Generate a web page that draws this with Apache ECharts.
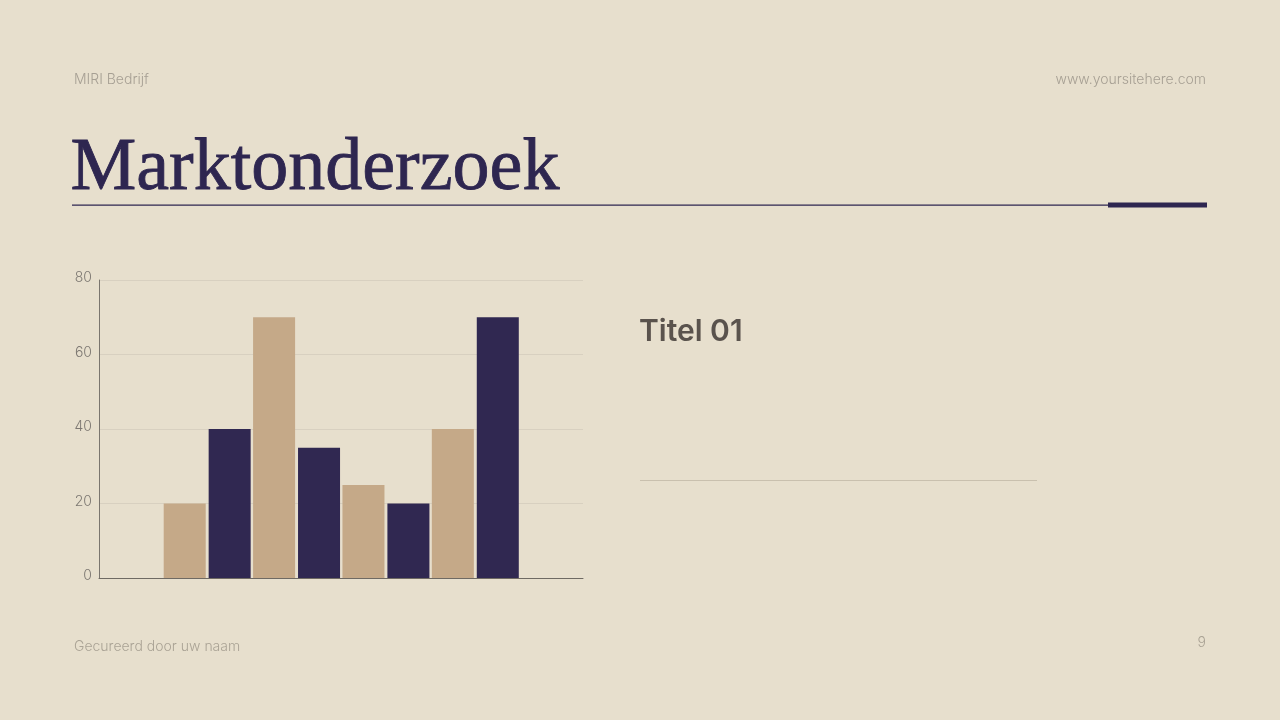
<!DOCTYPE html>
<html>
<head>
<meta charset="utf-8">
<script src="https://cdn.jsdelivr.net/npm/echarts@6/dist/echarts.min.js"></script>
<style>
html,body{margin:0;padding:0;background:#e7dfcd;}
#main{width:1280px;height:720px;}
</style>
</head>
<body>
<div id="main"></div>
<script>
const categories = ['Groep 1', 'Groep 2', 'Groep 3', 'Groep 4'];
const seriesTanValues = [20, 70, 25, 40];
const seriesNavyValues = [40, 35, 20, 70];
const yTicks = [0, 20, 40, 60, 80];

const chart = echarts.init(document.getElementById('main'));
const sans = 'Inter, "Noto Sans", sans-serif';

chart.setOption({
  backgroundColor: '#e7dfcd',
  animation: false,
  grid: [
    {left: 99, right: 697, top: 280, bottom: 142},
    {left: 162.5, right: 760, top: 280, bottom: 142}
  ],
  xAxis: [
    {gridIndex: 0, type: 'category', data: [''],
     axisLine: {show: true, lineStyle: {color: '#6f6a63', width: 1}},
     axisTick: {show: false}, axisLabel: {show: false}, splitLine: {show: false}},
    {gridIndex: 1, type: 'category', data: categories,
     axisLine: {show: false}, axisTick: {show: false}, axisLabel: {show: false}}
  ],
  yAxis: [
    {gridIndex: 0, type: 'value', min: yTicks[0], max: yTicks[yTicks.length - 1], interval: 20,
     axisLine: {show: true, lineStyle: {color: '#7a756e', width: 1}},
     axisTick: {show: false},
     axisLabel: {color: '#7d7872', fontFamily: sans, fontSize: 14, margin: 7, fontWeight: 300,
                 verticalAlign: 'bottom', lineHeight: 14, padding: [0, 0, -5, 0]},
     splitLine: {show: true, lineStyle: {color: '#d8d0c0', width: 1}}},
    {gridIndex: 1, type: 'value', min: 0, max: 80, show: false, splitLine: {show: false}}
  ],
  series: [
    {type: 'bar', xAxisIndex: 1, yAxisIndex: 1, data: seriesTanValues,
     itemStyle: {color: '#c5a988'}, barGap: '7%', barCategoryGap: '2.7%', z: 1},
    {type: 'bar', xAxisIndex: 1, yAxisIndex: 1, data: seriesNavyValues,
     itemStyle: {color: '#302851'}, barGap: '7%', barCategoryGap: '2.7%', z: 1}
  ],
  graphic: [
    {type: 'text', left: 74, top: 73, style: {text: 'MIRI Bedrijf', fill: '#a69f93', font: '300 14px ' + sans}},
    {type: 'text', right: 74, top: 73, style: {text: 'www.yoursitehere.com', fill: '#a69f93', font: '300 14px ' + sans}},
    {type: 'text', left: 70, top: 132, style: {text: 'Marktonderzoek', fill: '#2e2650', font: '74px "Liberation Serif", "DejaVu Serif", serif', stroke: '#2e2650', lineWidth: 0.8}},
    {type: 'rect', shape: {x: 72, y: 204.5, width: 1135, height: 1.3}, style: {fill: '#2e2650'}},
    {type: 'rect', shape: {x: 1108, y: 202.5, width: 99, height: 5}, style: {fill: '#2e2650'}},
    {type: 'text', left: 639, top: 317, style: {text: 'Titel 01', fill: '#5a534d', font: '600 30px ' + sans}},
    {type: 'rect', shape: {x: 640, y: 480, width: 397, height: 1}, style: {fill: '#c9c0ae'}},
    {type: 'text', left: 74, top: 640, style: {text: 'Gecureerd door uw naam', fill: '#aaa395', font: '300 14px ' + sans}},
    {type: 'text', right: 74, top: 636, style: {text: '9', fill: '#aaa395', font: '300 14px ' + sans}}
  ]
});
</script>
</body>
</html>
